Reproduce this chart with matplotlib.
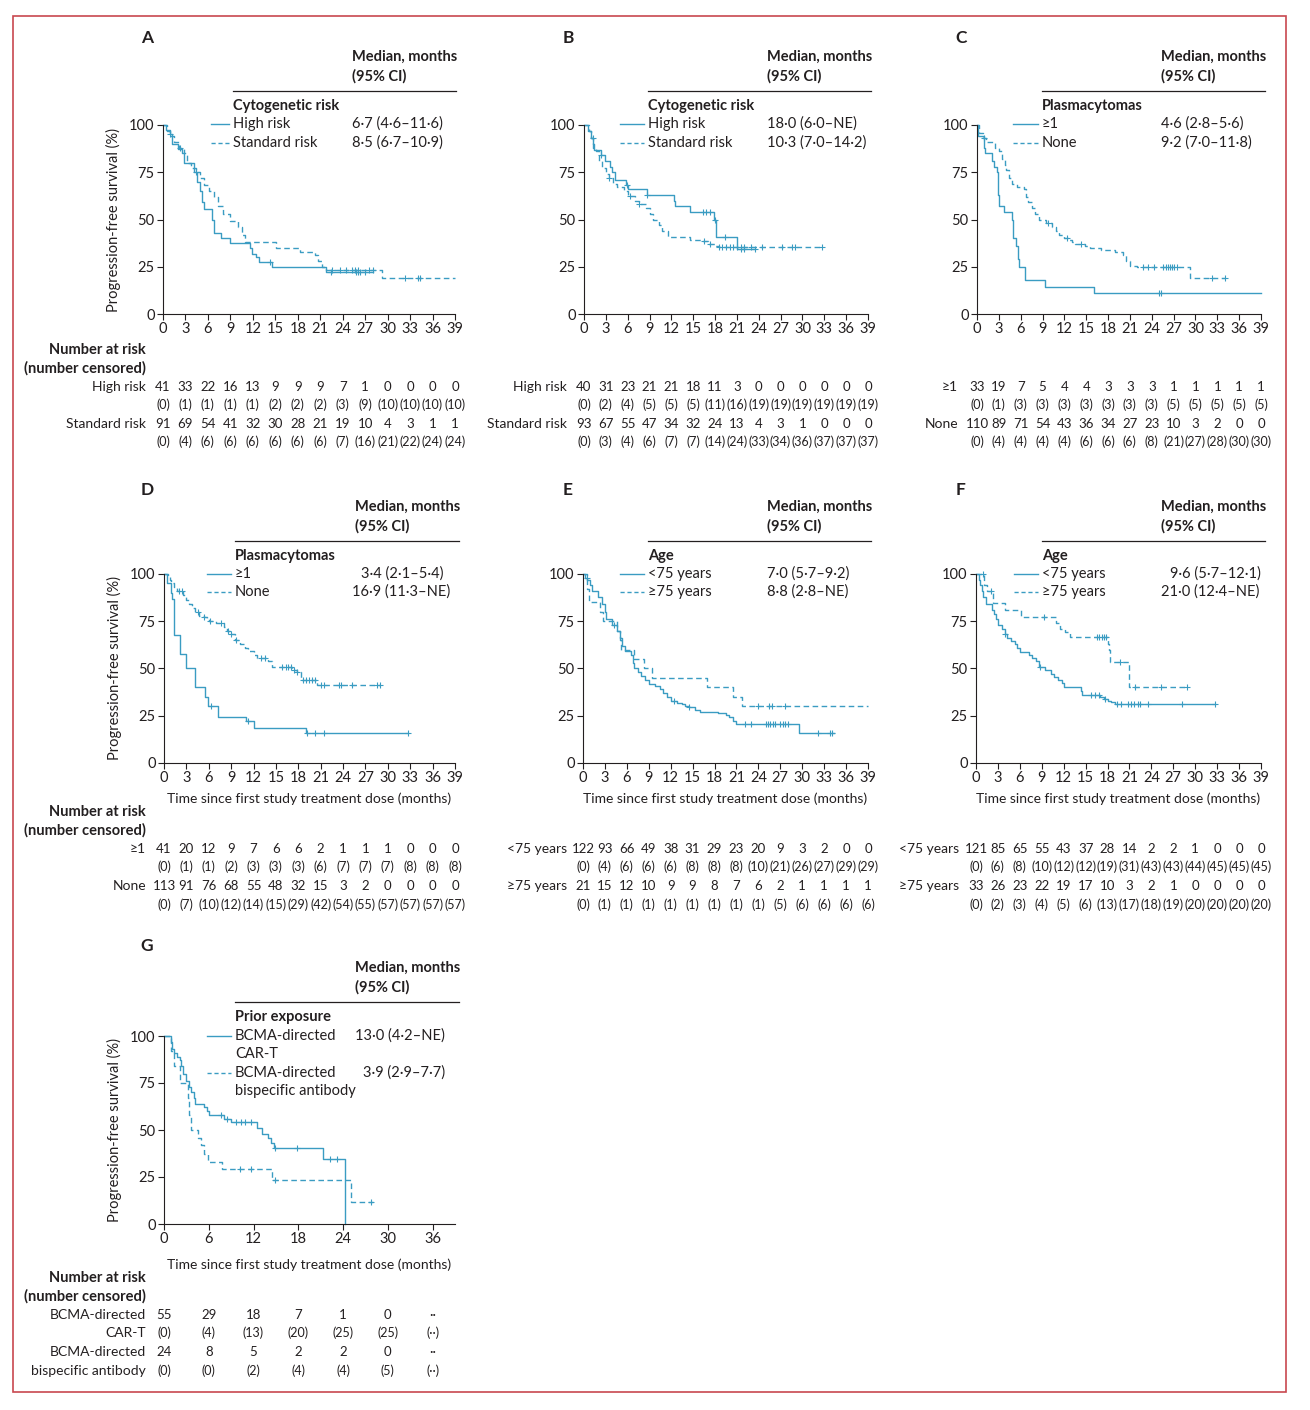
import numpy as np
import matplotlib.pyplot as plt
from matplotlib.transforms import blended_transform_factory
from matplotlib.patches import Rectangle
from matplotlib.lines import Line2D

plt.rcParams['font.family'] = ['Lato', 'DejaVu Sans']

BLUE = '#3a9cc2'
INK = '#231f20'
W, H = 1310, 1410

# ---- data ----
# A: cytogenetic risk (cohort 1)
a_high_t = [0, 0.4, 0.9, 1.2, 2.0, 2.5, 2.8, 4.2, 4.6, 4.9, 5.2, 5.5, 6.6, 6.8, 7.7, 9.0, 11.6, 11.9, 12.4, 12.8, 14.5, 21.8, 28.0]
a_high_s = [100, 97.5, 95, 90, 87.5, 85, 80, 75, 70, 65, 59, 55.5, 50, 43, 40, 37.5, 35, 32, 30, 27.5, 25, 22, 22]
a_high_c = [1.0, 4.4, 14.3, 22.5, 25.8, 26.0, 26.3, 27.0]
a_std_t = [0, 0.6, 1.0, 1.5, 2.2, 2.8, 3.2, 3.8, 4.4, 5.0, 5.5, 6.2, 6.8, 7.3, 8.0, 9.0, 10.0, 10.6, 11.0, 15.1, 18.3, 20.3, 20.7, 21.2, 21.8, 29.2, 39.0]
a_std_s = [100, 97, 94, 91, 88, 85, 80, 77, 75, 72, 68, 65, 62, 57, 53, 49, 46, 42, 38, 35, 33, 31, 28, 25, 23.5, 19, 19]
a_std_c = [2.3, 22.6, 23.6, 24.5, 25.2, 25.6, 26.1, 27.5, 28.0, 32.3, 34.0, 34.3]
a_high_n = [41, 33, 22, 16, 13, 9, 9, 9, 7, 1, 0, 0, 0, 0]
a_high_nc = [0, 1, 1, 1, 1, 2, 2, 2, 3, 9, 10, 10, 10, 10]
a_std_n = [91, 69, 54, 41, 32, 30, 28, 21, 19, 10, 4, 3, 1, 1]
a_std_nc = [0, 4, 6, 6, 6, 6, 6, 6, 7, 16, 21, 22, 24, 24]

# B: cytogenetic risk (cohort 2)
b_high_t = [0, 0.6, 0.9, 1.2, 1.4, 2.3, 2.9, 3.6, 3.9, 4.3, 5.8, 6.1, 8.6, 12.3, 12.5, 14.6, 17.9, 18.1, 21.0, 23.5]
b_high_s = [100, 97, 93, 90, 87, 84, 81, 78, 75, 71, 68, 66, 63, 60, 57, 54, 50, 41, 34.5, 34.5]
b_high_c = [2.4, 5.9, 8.7, 16.3, 16.8, 17.3, 18.0, 19.3, 21.5, 22.0, 23.5]
b_std_t = [0, 0.7, 1.0, 1.3, 1.6, 2.0, 2.5, 3.0, 3.5, 4.0, 4.5, 5.5, 6.0, 7.0, 7.5, 8.5, 9.0, 9.5, 10.3, 10.7, 11.5, 14.5, 16.0, 17.0, 18.0, 18.6, 32.7]
b_std_s = [100, 97, 93, 88, 86, 81, 77, 74, 72, 69, 67, 65, 62.5, 60, 58, 56, 53, 50, 47, 44, 41, 39, 38.5, 37, 36, 35.5, 35.5]
b_std_c = [1.2, 3.5, 6.3, 7.6, 16.5, 17.3, 18.6, 19.0, 19.5, 20.0, 20.5, 21.0, 21.5, 22.0, 23.0, 24.5, 27.2, 28.5, 29.0, 32.7]
b_high_n = [40, 31, 23, 21, 21, 18, 11, 3, 0, 0, 0, 0, 0, 0]
b_high_nc = [0, 2, 4, 5, 5, 5, 11, 16, 19, 19, 19, 19, 19, 19]
b_std_n = [93, 67, 55, 47, 34, 32, 24, 13, 4, 3, 1, 0, 0, 0]
b_std_nc = [0, 3, 4, 6, 7, 7, 14, 24, 33, 34, 36, 37, 37, 37]

# C: plasmacytomas (cohort 1)
c_pos_t = [0, 0.2, 1.0, 1.1, 2.1, 2.4, 2.7, 2.85, 3.0, 3.7, 4.8, 5.0, 5.3, 5.6, 5.8, 6.6, 9.4, 16.1, 39.0]
c_pos_s = [100, 94, 88, 85, 81, 78, 75, 63, 57, 54, 50, 40, 36, 29, 25, 18, 14.5, 11, 11]
c_pos_c = [25.0, 25.3]
c_none_t = [0, 0.3, 0.8, 1.3, 2.5, 3.0, 3.5, 3.8, 4.0, 4.4, 4.8, 5.5, 6.5, 6.7, 7.0, 7.5, 8.0, 8.5, 9.5, 10.3, 10.8, 11.3, 12.0, 12.5, 13.0, 13.5, 14.8, 15.5, 17.0, 19.0, 20.0, 20.5, 21.0, 22.0, 29.2, 34.0]
c_none_s = [100, 96, 93, 91, 88, 86, 82, 79, 76, 72, 69, 67, 66, 62, 59, 56, 53, 50, 48, 46, 44, 42, 40, 39, 38, 37, 36, 35, 34, 33, 31, 28, 25.5, 25, 19, 19]
c_none_c = [1.0, 9.8, 12.3, 14.3, 22.8, 23.5, 24.3, 25.6, 25.9, 26.2, 26.5, 26.8, 27.1, 27.5, 32.3, 34.0]
c_pos_n = [33, 19, 7, 5, 4, 4, 3, 3, 3, 1, 1, 1, 1, 1]
c_pos_nc = [0, 1, 3, 3, 3, 3, 3, 3, 3, 5, 5, 5, 5, 5]
c_none_n = [110, 89, 71, 54, 43, 36, 34, 27, 23, 10, 3, 2, 0, 0]
c_none_nc = [0, 4, 4, 4, 4, 6, 6, 6, 8, 21, 27, 28, 30, 30]

# D: plasmacytomas (cohort 2)
d_pos_t = [0, 0.4, 0.9, 1.1, 1.3, 1.4, 2.2, 2.9, 3.0, 4.2, 5.5, 5.9, 7.2, 11.0, 12.1, 19.0, 32.7]
d_pos_s = [100, 95, 90, 87, 78, 67.5, 57.5, 52.5, 50, 40, 35, 30, 24.5, 22, 18.5, 16, 16]
d_pos_c = [6.3, 11.2, 19.2, 20.3, 21.4, 32.7]
d_none_t = [0, 0.5, 0.8, 1.0, 1.3, 1.8, 2.5, 3.0, 3.3, 3.8, 4.2, 4.7, 5.3, 5.7, 6.0, 7.0, 8.0, 8.4, 9.0, 9.5, 10.2, 10.8, 11.3, 12.0, 12.5, 14.0, 14.5, 17.2, 17.8, 18.3, 20.5, 29.0]
d_none_s = [100, 99, 97, 95, 93, 91, 89, 86, 84, 82, 80, 78, 77, 76, 75, 74, 72, 70, 68, 65, 63, 61, 59, 57, 55.5, 54, 51, 49, 48, 44, 41.5, 41.5]
d_none_c = [2.0, 2.4, 4.5, 5.3, 6.2, 7.6, 8.6, 9.0, 9.6, 13.0, 13.5, 15.8, 16.3, 16.6, 17.0, 17.4, 17.8, 18.6, 19.0, 19.4, 19.8, 20.2, 21.0, 21.5, 23.5, 23.7, 25.2, 28.5, 29.0]
d_pos_n = [41, 20, 12, 9, 7, 6, 6, 2, 1, 1, 1, 0, 0, 0]
d_pos_nc = [0, 1, 1, 2, 3, 3, 3, 6, 7, 7, 7, 8, 8, 8]
d_none_n = [113, 91, 76, 68, 55, 48, 32, 15, 3, 2, 0, 0, 0, 0]
d_none_nc = [0, 7, 10, 12, 14, 15, 29, 42, 54, 55, 57, 57, 57, 57]

# E: age (cohort 1)
e_lt_t = [0, 0.3, 0.6, 1.0, 1.2, 2.0, 2.6, 3.0, 3.2, 4.0, 4.6, 5.0, 5.3, 5.7, 6.5, 6.8, 7.0, 7.5, 8.0, 8.5, 9.0, 9.8, 10.5, 11.0, 11.5, 12.0, 12.8, 13.5, 14.0, 14.5, 15.3, 16.0, 18.5, 19.5, 20.0, 20.5, 21.0, 29.5, 34.3]
e_lt_s = [100, 98, 97, 94, 91, 88, 84, 80, 76, 73, 70, 66, 62, 59, 57, 53, 50, 48, 46, 44, 42, 41, 39, 37, 35, 33, 32, 31, 30, 29.5, 28, 27, 26.5, 25.5, 24.5, 22, 20.5, 16, 16]
e_lt_c = [0.5, 4.3, 12.5, 14.5, 22.2, 23.0, 25.0, 25.3, 25.6, 26.0, 26.3, 27.0, 27.3, 27.6, 28.0, 32.2, 33.8, 34.1]
e_ge_t = [0, 0.6, 0.8, 2.3, 2.8, 4.6, 5.0, 5.2, 7.0, 8.4, 9.5, 16.9, 20.5, 21.8, 39.0]
e_ge_s = [100, 92, 85, 80, 75, 70, 65, 60, 55, 50, 45, 40, 35, 30, 30]
e_ge_c = [24.0, 25.5, 25.8, 27.7]
e_lt_n = [122, 93, 66, 49, 38, 31, 29, 23, 20, 9, 3, 2, 0, 0]
e_lt_nc = [0, 4, 6, 6, 6, 8, 8, 8, 10, 21, 26, 27, 29, 29]
e_ge_n = [21, 15, 12, 10, 9, 9, 8, 7, 6, 2, 1, 1, 1, 1]
e_ge_nc = [0, 1, 1, 1, 1, 1, 1, 1, 1, 5, 6, 6, 6, 6]

# F: age (cohort 2)
f_lt_t = [0, 0.4, 0.6, 0.8, 1.0, 1.4, 2.2, 2.5, 2.8, 3.0, 3.5, 4.0, 4.3, 4.8, 5.3, 5.6, 6.0, 7.2, 7.7, 8.2, 8.6, 9.5, 10.2, 10.7, 11.2, 11.7, 12.0, 14.3, 14.5, 17.0, 17.5, 18.0, 18.5, 19.0, 32.7]
f_lt_s = [100, 97, 94, 91, 88, 84, 81, 79, 76, 73, 71, 68, 66, 64.5, 63, 61, 58.5, 57, 55.5, 54, 51, 49, 47, 45.5, 44, 42.5, 40, 38, 36, 35, 34, 33, 32.5, 31, 31]
f_lt_c = [4.0, 8.7, 15.8, 16.3, 16.8, 17.7, 19.3, 19.8, 20.8, 21.2, 21.6, 22.1, 22.5, 23.5, 28.2, 32.7]
f_ge_t = [0, 1.1, 1.5, 2.3, 4.0, 6.2, 11.0, 11.5, 12.2, 12.8, 18.1, 18.2, 18.4, 21.0, 29.0]
f_ge_s = [100, 94, 91, 84.5, 81, 77.5, 74, 71, 69.5, 66.5, 63, 60, 53.3, 40, 40]
f_ge_c = [0.9, 2.0, 9.3, 16.5, 16.8, 17.2, 17.5, 17.8, 19.7, 21.8, 25.3, 28.9]
f_lt_n = [121, 85, 65, 55, 43, 37, 28, 14, 2, 2, 1, 0, 0, 0]
f_lt_nc = [0, 6, 8, 10, 12, 12, 19, 31, 43, 43, 44, 45, 45, 45]
f_ge_n = [33, 26, 23, 22, 19, 17, 10, 3, 2, 1, 0, 0, 0, 0]
f_ge_nc = [0, 2, 3, 4, 5, 6, 13, 17, 18, 19, 20, 20, 20, 20]

# G: prior BCMA exposure
g_car_t = [0, 0.9, 1.1, 1.3, 1.8, 2.1, 2.3, 2.6, 3.0, 3.3, 3.6, 4.0, 4.2, 5.3, 5.8, 6.0, 8.1, 9.0, 12.5, 13.2, 14.0, 14.4, 14.7, 21.3, 24.3]
g_car_s = [100, 97, 93, 91, 89, 87, 84, 80, 76, 73, 70, 67, 64, 62, 60, 58, 56, 54, 51, 48, 46, 43, 40.5, 34.5, 0]
g_car_c = [7.7, 8.5, 9.6, 10.3, 10.9, 11.6, 14.9, 17.8, 22.2, 23.2]
g_bis_t = [0, 1.0, 1.3, 2.1, 3.2, 3.4, 3.6, 4.5, 5.0, 5.4, 5.9, 7.8, 14.5, 25.1, 28.0]
g_bis_s = [100, 92, 84, 75, 67, 58, 50, 46, 42, 37.5, 33, 29, 23.5, 11.8, 11.8]
g_bis_c = [10.2, 11.7, 14.9, 27.8]
g_car_n = ['55', '29', '18', '7', '1', '0', '··']
g_car_nc = ['0', '4', '13', '20', '25', '25', '··']
g_bis_n = ['24', '8', '5', '2', '2', '0', '··']
g_bis_nc = ['0', '0', '2', '4', '4', '5', '··']

XLABEL = 'Time since first study treatment dose (months)'
YLABEL = 'Progression-free survival (%)'

fig = plt.figure(figsize=(W / 100, H / 100), dpi=100)
fig.patches.append(Rectangle((13 / W, 1 - 1392 / H), 1273 / W, 1376 / H, transform=fig.transFigure,
                             fill=False, edgecolor='#c8484f', lw=1.2))


def fx(x):
    return x / W


def fy(y):
    return 1 - y / H


def txt(x, y, s, **kw):
    kw.setdefault('va', 'center')
    kw.setdefault('color', INK)
    kw.setdefault('fontsize', 10.5)
    fig.text(fx(x), fy(y), s, **kw)


def make_axes(x0, x1, ytop, ybot, ticks):
    ax = fig.add_axes([fx(x0), fy(ybot), (x1 - x0) / W, (ybot - ytop) / H])
    ax.set_xlim(0, 39)
    ax.set_ylim(0, 100)
    for s in ['top', 'right']:
        ax.spines[s].set_visible(False)
    for s in ['left', 'bottom']:
        ax.spines[s].set_linewidth(0.8)
        ax.spines[s].set_color(INK)
    ax.set_xticks(ticks)
    ax.set_yticks([0, 25, 50, 75, 100])
    ax.tick_params(direction='out', length=4, width=0.8, colors=INK, labelsize=10.5, pad=2)
    return ax


def km(ax, t, s, cens, dashed):
    ls = (0, (4, 2.5)) if dashed else '-'
    ax.step(t, s, where='post', color=BLUE, lw=1.0, ls=ls, clip_on=False)
    t = np.asarray(t)
    s = np.asarray(s)
    cy = [s[np.searchsorted(t, c, side='right') - 1] for c in cens]
    ax.plot(cens, cy, ls='none', marker='+', ms=4, mew=0.8, color=BLUE, clip_on=False)


def legend(xline, xtext, xhdr, yhdr, title, rows):
    # rows: (label lines, value, y of first line, dashed, value x)
    txt(xhdr, yhdr, 'Median, months', fontweight='bold')
    txt(xhdr, yhdr + 19, '(95% CI)', fontweight='bold')
    fig.add_artist(Line2D([fx(xtext), fx(xhdr + 104)], [fy(yhdr + 34)] * 2, color=INK, lw=0.9,
                          transform=fig.transFigure))
    txt(xtext, yhdr + 49, title, fontweight='bold')
    for label, val, y, dashed, xv in rows:
        ls = (0, (3, 2)) if dashed else '-'
        fig.add_artist(Line2D([fx(xline), fx(xtext - 4)], [fy(y)] * 2, color=BLUE, lw=1.0, ls=ls,
                              transform=fig.transFigure))
        for k, line in enumerate(label.split('\n')):
            txt(xtext, y + 18.5 * k, line)
        txt(xv, y, val)


def risk_table(ax, xlab, ys, rows, head=True, ticks=None):
    tr = blended_transform_factory(ax.transData, fig.transFigure)
    if ticks is None:
        ticks = list(range(0, 40, 3))
    if head:
        txt(xlab, ys[0] - 37, 'Number at risk', ha='right', fontweight='bold')
        txt(xlab, ys[0] - 19, '(number censored)', ha='right', fontweight='bold')
    for k, (labels, n, nc) in enumerate(rows):
        y1 = ys[2 * k]
        y2 = ys[2 * k + 1]
        txt(xlab, y1, labels[0], ha='right', fontsize=10)
        if labels[1]:
            txt(xlab, y2, labels[1], ha='right', fontsize=10)
        for x, a, b in zip(ticks, n, nc):
            ax.text(x, fy(y1), str(a), transform=tr, ha='center', va='center', fontsize=9.5, color=INK)
            ax.text(x, fy(y2), '(%s)' % b, transform=tr, ha='center', va='center', fontsize=9, color=INK)


t39 = list(range(0, 40, 3))

# ---- row 1 ----
axA = make_axes(163, 455, 125, 314, t39)
km(axA, a_std_t, a_std_s, a_std_c, True)
km(axA, a_high_t, a_high_s, a_high_c, False)
axA.set_ylabel(YLABEL, fontsize=10.5, color=INK, labelpad=6)
legend(211, 233, 352, 57, 'Cytogenetic risk',
       [('High risk', '6·7 (4·6–11·6)', 124, False, 352),
        ('Standard risk', '8·5 (6·7–10·9)', 143, True, 352)])
risk_table(axA, 146, [387, 405, 424, 442],
           [(('High risk', ''), a_high_n, a_high_nc), (('Standard risk', ''), a_std_n, a_std_nc)])
txt(147, 38, 'A', fontweight='bold', fontsize=12.5, ha='center')

axB = make_axes(584, 868, 125, 314, t39)
km(axB, b_std_t, b_std_s, b_std_c, True)
km(axB, b_high_t, b_high_s, b_high_c, False)
legend(620, 648, 767, 57, 'Cytogenetic risk',
       [('High risk', '18·0 (6·0–NE)', 124, False, 767),
        ('Standard risk', '10·3 (7·0–14·2)', 143, True, 767)])
risk_table(axB, 567, [387, 405, 424, 442],
           [(('High risk', ''), b_high_n, b_high_nc), (('Standard risk', ''), b_std_n, b_std_nc)], head=False)
txt(568, 38, 'B', fontweight='bold', fontsize=12.5, ha='center')

axC = make_axes(977, 1261, 125, 314, t39)
km(axC, c_none_t, c_none_s, c_none_c, True)
km(axC, c_pos_t, c_pos_s, c_pos_c, False)
legend(1013, 1042, 1161, 57, 'Plasmacytomas',
       [('≥1', '4·6 (2·8–5·6)', 124, False, 1161),
        ('None', '9·2 (7·0–11·8)', 143, True, 1161)])
risk_table(axC, 958, [387, 405, 424, 442],
           [(('≥1', ''), c_pos_n, c_pos_nc), (('None', ''), c_none_n, c_none_nc)], head=False)
txt(961, 38, 'C', fontweight='bold', fontsize=12.5, ha='center')

# ---- row 2 ----
axD = make_axes(164, 455, 574, 763, t39)
km(axD, d_none_t, d_none_s, d_none_c, True)
km(axD, d_pos_t, d_pos_s, d_pos_c, False)
axD.set_ylabel(YLABEL, fontsize=10.5, color=INK, labelpad=6)
axD.set_xlabel(XLABEL, fontsize=10, color=INK, labelpad=5)
legend(207, 235, 355, 507, 'Plasmacytomas',
       [('≥1', '3·4 (2·1–5·4)', 574, False, 361),
        ('None', '16·9 (11·3–NE)', 592, True, 352)])
risk_table(axD, 146, [849, 867, 886, 905],
           [(('≥1', ''), d_pos_n, d_pos_nc), (('None', ''), d_none_n, d_none_nc)])
txt(147, 490, 'D', fontweight='bold', fontsize=12.5, ha='center')

axE = make_axes(583, 868, 574, 763, t39)
km(axE, e_ge_t, e_ge_s, e_ge_c, True)
km(axE, e_lt_t, e_lt_s, e_lt_c, False)
axE.set_xlabel(XLABEL, fontsize=10, color=INK, labelpad=5)
legend(620, 648, 767, 507, 'Age',
       [('<75 years', '7·0 (5·7–9·2)', 574, False, 767),
        ('≥75 years', '8·8 (2·8–NE)', 592, True, 767)])
risk_table(axE, 567, [849, 867, 886, 905],
           [(('<75 years', ''), e_lt_n, e_lt_nc), (('≥75 years', ''), e_ge_n, e_ge_nc)], head=False)
txt(568, 490, 'E', fontweight='bold', fontsize=12.5, ha='center')

axF = make_axes(976, 1261, 574, 763, t39)
km(axF, f_ge_t, f_ge_s, f_ge_c, True)
km(axF, f_lt_t, f_lt_s, f_lt_c, False)
axF.set_xlabel(XLABEL, fontsize=10, color=INK, labelpad=5)
legend(1014, 1042, 1161, 507, 'Age',
       [('<75 years', '9·6 (5·7–12·1)', 574, False, 1170),
        ('≥75 years', '21·0 (12·4–NE)', 592, True, 1161)])
risk_table(axF, 959, [849, 867, 886, 905],
           [(('<75 years', ''), f_lt_n, f_lt_nc), (('≥75 years', ''), f_ge_n, f_ge_nc)], head=False)
txt(961, 490, 'F', fontweight='bold', fontsize=12.5, ha='center')

# ---- row 3 ----
t36 = list(range(0, 37, 6))
axG = make_axes(164, 455, 1036, 1224, t36)
km(axG, g_bis_t, g_bis_s, g_bis_c, True)
km(axG, g_car_t, g_car_s, g_car_c, False)
axG.set_ylabel(YLABEL, fontsize=10.5, color=INK, labelpad=6)
axG.set_xlabel(XLABEL, fontsize=10, color=INK, labelpad=9)
legend(207, 235, 355, 968, 'Prior exposure',
       [('BCMA-directed\nCAR-T', '13·0 (4·2–NE)', 1036, False, 355),
        ('BCMA-directed\nbispecific antibody', '3·9 (2·9–7·7)', 1073, True, 363)])
risk_table(axG, 146, [1315, 1333, 1352, 1371],
           [(('BCMA-directed', 'CAR-T'), g_car_n, g_car_nc),
            (('BCMA-directed', 'bispecific antibody'), g_bis_n, g_bis_nc)], ticks=t36)
txt(147, 946, 'G', fontweight='bold', fontsize=12.5, ha='center')

fig.savefig('out.png', dpi=100)
